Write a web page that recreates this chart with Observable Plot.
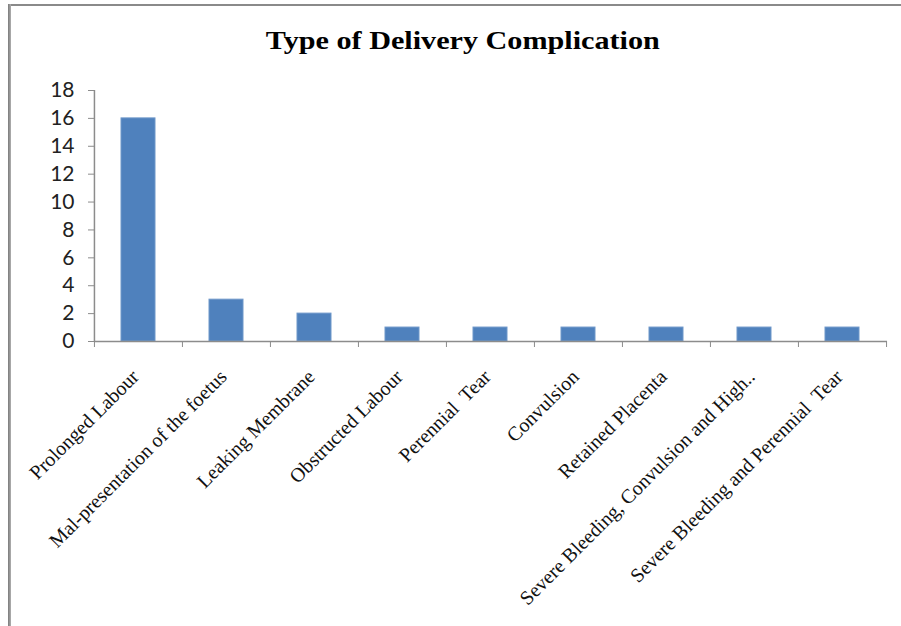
<!DOCTYPE html>
<html>
<head>
<meta charset="utf-8">
<script src="https://cdn.jsdelivr.net/npm/d3@7"></script>
<script src="https://cdn.jsdelivr.net/npm/@observablehq/plot@0.6"></script>
<style>
  html, body { margin: 0; padding: 0; background: #fff; }
  #wrap { position: relative; width: 901px; height: 626px; overflow: hidden; background: #fff; }
  #borderTop { position: absolute; left: 8px; top: 4px; width: 893px; height: 2px; background: #8a8a8a; }
  #borderLeft { position: absolute; left: 8px; top: 4px; width: 3px; height: 622px; background: linear-gradient(to right, #7a7a7a, #b0b0b0); }
  #title { position: absolute; left: 0; top: 0; width: 925px; height: 70px; text-align: center;
           font-family: "Liberation Serif", "Times New Roman", serif; font-weight: bold; font-size: 26px;
           line-height: 26px; padding-top: 28px; box-sizing: border-box; color: #000; }
  #title span { display: inline-block; transform: scaleX(1.16); }
  #chart { position: absolute; left: 0; top: 70px; }
</style>
</head>
<body>
<div id="wrap">
  <div id="borderTop"></div>
  <div id="borderLeft"></div>
  <div id="title"><span>Type of Delivery Complication</span></div>
  <div id="chart"></div>
</div>
<script>
const categories = [
  "Prolonged Labour",
  "Mal-presentation of the foetus",
  "Leaking Membrane",
  "Obstructed Labour",
  "Perennial  Tear",
  "Convulsion",
  "Retained Placenta",
  "Severe Bleeding, Convulsion and High..",
  "Severe Bleeding and Perennial  Tear"
];
const counts = [16, 3, 2, 1, 1, 1, 1, 1, 1];
const yTicks = [0, 2, 4, 6, 8, 10, 12, 14, 16, 18];

const data = categories.map((c, i) => ({category: c, count: counts[i]}));

const W = 901, H = 556, ML = 94, MR = 14, MT = 20, MB = 285;
const step = (W - ML - MR) / categories.length;

const plot = Plot.plot({
  width: W,
  height: H,
  marginLeft: ML,
  marginRight: MR,
  marginTop: MT,
  marginBottom: MB,
  style: {background: "transparent", overflow: "visible"},
  x: {domain: categories, paddingInner: 0.61, paddingOuter: 0.305, label: null},
  y: {domain: [0, 18], label: null},
  marks: [
    Plot.barY(data, {x: "category", y: "count", fill: "#4F81BD", stroke: "#6f97c9", strokeWidth: 1}),
    Plot.ruleY([0], {stroke: "#8c8c8c", strokeWidth: 1.5}),
    Plot.ruleX([categories[0]], {dx: -step / 2, stroke: "#8c8c8c", strokeWidth: 1.5}),
    Plot.axisY({ticks: yTicks, tickSize: 6, tickPadding: 14, stroke: "#8c8c8c",
      fontFamily: "Lato, 'Liberation Sans', sans-serif", fontSize: 21, fill: "#222", tickFormat: d => d}),
    Plot.axisX({ticks: categories, tickSize: 6, dx: -step / 2, stroke: "#8c8c8c", tickFormat: () => ""}),
    Plot.axisX({ticks: [categories[categories.length - 1]], tickSize: 6, dx: step / 2, stroke: "#8c8c8c", tickFormat: () => ""}),
    Plot.axisX({ticks: categories, tickSize: 0, tickRotate: -45, tickPadding: 32, dx: -3,
      fontFamily: "'Liberation Serif', 'Times New Roman', serif", fontSize: 20, fill: "#111",
      textAnchor: "end"})
  ]
});
document.getElementById("chart").appendChild(plot);
</script>
</body>
</html>
